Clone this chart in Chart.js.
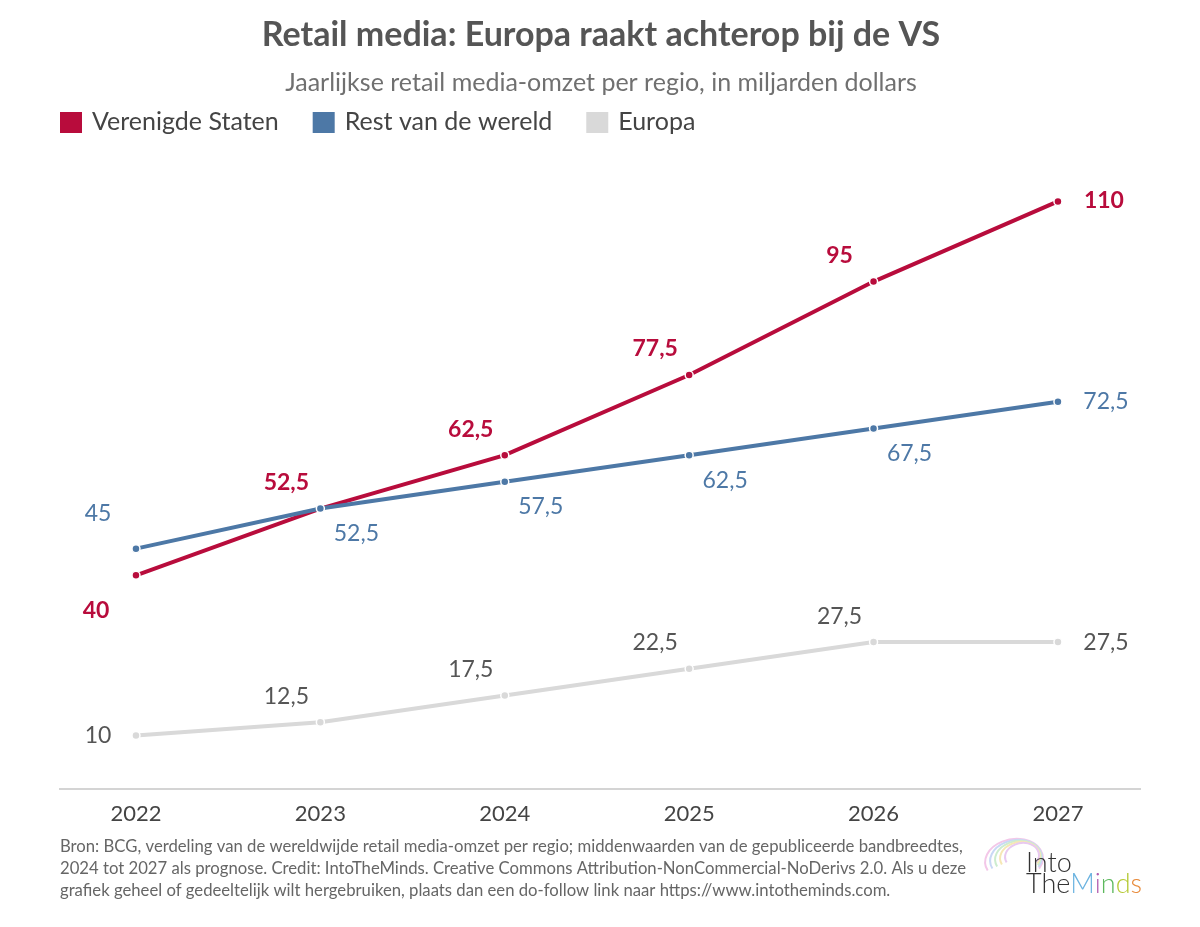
<!DOCTYPE html>
<html>
<head>
<meta charset="utf-8">
<script src="https://cdn.jsdelivr.net/npm/chart.js@4.4.1/dist/chart.umd.min.js"></script>
<style>
  html, body { margin: 0; padding: 0; background: #fff; }
  #wrap { width: 1200px; height: 927px; position: relative; }
</style>
</head>
<body>
<div id="wrap"><canvas id="retailChart"></canvas></div>
<script>
// Data
const years = ['2022', '2023', '2024', '2025', '2026', '2027'];
const usValues = [40, 52.5, 62.5, 77.5, 95, 110];
const restValues = [45, 52.5, 57.5, 62.5, 67.5, 72.5];
const europeValues = [10, 12.5, 17.5, 22.5, 27.5, 27.5];
const seriesNames = ['Verenigde Staten', 'Rest van de wereld', 'Europa'];

const colors = ['#b80c3c', '#4d78a6', '#d9d9d9'];
const labelColors = ['#b80c3c', '#4d78a6', '#555555'];
const FONT = 'Lato, "Open Sans", sans-serif';

function toPoints(values) {
    return values.map((v, i) => ({ x: i, y: v }));
}

// label offsets (dx, dy) per series: first point, middle points, last point
const labelPlacement = [
    { first: [-40, 35], mid: [-34, -26], last: [46, -1] },
    { first: [-38, -35], mid: [36, 25], last: [48, 0] },
    { first: [-38, 0], mid: [-34, -26], last: [48, 0] }
];

function fmt(v) {
    return String(v).replace('.', ',');
}

const textPlugin = {
    id: 'textPlugin',
    afterDatasetsDraw(chart) {
        const ctx = chart.ctx;
        ctx.save();
        ctx.textAlign = 'center';
        ctx.textBaseline = 'middle';
        chart.data.datasets.forEach((ds, di) => {
            const meta = chart.getDatasetMeta(di);
            const place = labelPlacement[di];
            ctx.font = (di === 0 ? 'bold ' : '') + '23px ' + FONT;
            ctx.fillStyle = labelColors[di];
            meta.data.forEach((pt, i) => {
                let off = place.mid;
                if (i === 0) off = place.first;
                else if (i === meta.data.length - 1) off = place.last;
                ctx.fillText(fmt(ds.data[i].y), pt.x + off[0], pt.y + off[1]);
            });
        });
        ctx.restore();
    },
    afterDraw(chart) {
        const ctx = chart.ctx;
        ctx.save();
        // title + subtitle
        ctx.textAlign = 'center';
        ctx.textBaseline = 'middle';
        ctx.fillStyle = '#555555';
        ctx.font = 'bold 34px ' + FONT;
        ctx.fillText('Retail media: Europa raakt achterop bij de VS', 601, 35);
        ctx.fillStyle = '#707070';
        ctx.font = '25px ' + FONT;
        ctx.fillText('Jaarlijkse retail media-omzet per regio, in miljarden dollars', 601, 83);

        // legend
        ctx.textAlign = 'left';
        ctx.font = '25px ' + FONT;
        let x = 60;
        seriesNames.forEach((name, i) => {
            ctx.fillStyle = colors[i];
            ctx.fillRect(x, 112, 22, 21);
            ctx.fillStyle = '#444444';
            ctx.fillText(name, x + 32, 122);
            x += 32 + ctx.measureText(name).width + 34;
        });

        // footnote
        ctx.fillStyle = '#666666';
        ctx.font = '16.7px ' + FONT;
        const notes = [
            'Bron: BCG, verdeling van de wereldwijde retail media-omzet per regio; middenwaarden van de gepubliceerde bandbreedtes,',
            '2024 tot 2027 als prognose. Credit: IntoTheMinds. Creative Commons Attribution-NonCommercial-NoDerivs 2.0. Als u deze',
            'grafiek geheel of gedeeltelijk wilt hergebruiken, plaats dan een do-follow link naar https://www.intotheminds.com.'
        ];
        notes.forEach((line, i) => ctx.fillText(line, 60, 847 + i * 22));

        // logo
        const brain = ['#f3c7e8', '#c9d8f5', '#cdeccf', '#f6e7b5', '#e8c9f0'];
        ctx.lineWidth = 2;
        brain.forEach((c, i) => {
            ctx.strokeStyle = c;
            ctx.beginPath();
            ctx.ellipse(1014 + i * 2, 860 - i, 29 - i * 3, 21 - i * 2, -0.15, Math.PI * 0.9, Math.PI * 2.2);
            ctx.stroke();
        });
        ctx.font = '300 27px ' + FONT;
        ctx.fillStyle = '#333333';
        ctx.textBaseline = 'alphabetic';
        ctx.fillText('Into', 1026, 872);
        let lx = 1026;
        const logoLetters = [['The', '#333333'], ['M', '#6bb3e0'], ['i', '#b25db0'], ['n', '#5cb85c'], ['d', '#b5c934'], ['s', '#e88a3a']];
        logoLetters.forEach(([t, c]) => {
            ctx.fillStyle = c;
            ctx.fillText(t, lx, 893);
            lx += ctx.measureText(t).width;
        });
        ctx.restore();
    }
};

const makeDataset = (label, values, i) => ({
    label: label,
    data: toPoints(values),
    borderColor: colors[i],
    backgroundColor: colors[i],
    borderWidth: 4,
    pointRadius: 4,
    pointBorderWidth: 1.5,
    pointBorderColor: '#ffffff',
    pointBackgroundColor: colors[i],
    tension: 0,
    order: 3 - i
});

new Chart(document.getElementById('retailChart'), {
    type: 'line',
    data: {
        datasets: [
            makeDataset(seriesNames[0], usValues, 0),
            makeDataset(seriesNames[1], restValues, 1),
            makeDataset(seriesNames[2], europeValues, 2)
        ]
    },
    options: {
        responsive: true,
        maintainAspectRatio: false,
        animation: false,
        layout: { padding: { top: 148, left: 60, right: 60, bottom: 98 } },
        plugins: {
            legend: { display: false },
            title: { display: false },
            tooltip: { enabled: false }
        },
        scales: {
            x: {
                type: 'linear',
                min: -0.412,
                max: 5.445,
                grid: { display: false, drawTicks: false },
                border: { display: true, color: '#d4d4d4', width: 2 },
                afterBuildTicks: (scale) => {
                    scale.ticks = years.map((y, i) => ({ value: i }));
                },
                afterFit: (scale) => { scale.height = 40; },
                ticks: {
                    padding: 12,
                    color: '#444444',
                    font: { family: FONT, size: 22 },
                    callback: (v) => years[v]
                }
            },
            y: {
                display: false,
                min: 0,
                max: 120
            }
        }
    },
    plugins: [textPlugin]
});
</script>
</body>
</html>
